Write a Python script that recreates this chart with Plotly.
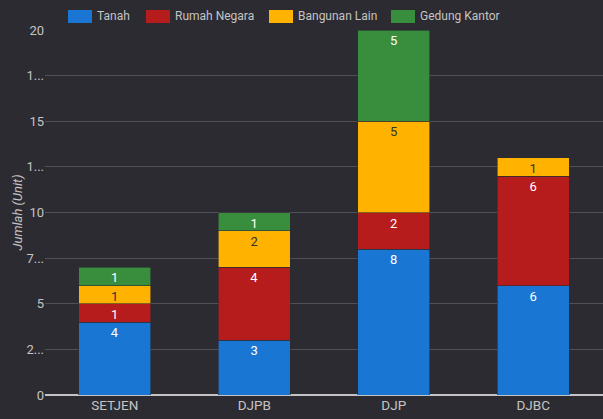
import plotly.graph_objects as go

categories = ["SETJEN", "DJPB", "DJP", "DJBC"]
series_names = ["Tanah", "Rumah Negara", "Bangunan Lain", "Gedung Kantor"]
tanah = [4, 3, 8, 6]
rumah_negara = [1, 4, 2, 6]
bangunan_lain = [1, 2, 5, 1]
gedung_kantor = [1, 1, 5, 0]
tick_vals = [0, 2.5, 5, 7.5, 10, 12.5, 15, 17.5, 20]
tick_text = ["0", "2...", "5", "7...", "10", "1...", "15", "1...", "20"]

colors = ["#1976d2", "#b71c1c", "#ffb300", "#388e3c"]
text_colors = ["#ffffff", "#ffffff", "#333333", "#ffffff"]
bg = "#2c2b31"
fg = "#c4c4c4"

W, H = 603, 419
ML, MR, MT, MB = 45, 0, 30, 24
PW, PH = W - ML - MR, H - MT - MB


def px_x(px):
    return (px - ML) / PW


def px_y(py):
    return (H - MB - py) / PH


fig = go.Figure()
for name, vals, c, tc in zip(series_names, [tanah, rumah_negara, bangunan_lain, gedung_kantor], colors, text_colors):
    fig.add_trace(go.Bar(
        x=categories, y=vals, name=name,
        marker=dict(color=c, line=dict(color=bg, width=0.6)),
        text=[str(v) if v else "" for v in vals],
        textposition="inside", insidetextanchor="end",
        textfont=dict(color=tc, size=13, family="Roboto"),
        textangle=0, showlegend=False,
    ))

# custom legend (wide swatches like the reference)
legend_swatch_left = [68, 146, 269, 391]
shapes = []
annotations = []
for name, c, sx in zip(series_names, colors, legend_swatch_left):
    shapes.append(dict(type="rect", xref="paper", yref="paper",
                       x0=px_x(sx), x1=px_x(sx + 24), y0=px_y(23), y1=px_y(10),
                       fillcolor=c, line=dict(width=0)))
    annotations.append(dict(text=name, xref="paper", yref="paper", x=px_x(sx + 27), y=px_y(16.5),
                            xanchor="left", yanchor="middle", showarrow=False,
                            font=dict(size=12, color=fg, family="Roboto")))

annotations.append(dict(text="<i>Jumlah (Unit)</i>", xref="paper", yref="paper",
                        x=px_x(17), y=0.5, xanchor="center", yanchor="middle",
                        textangle=-90, showarrow=False,
                        font=dict(size=13, color=fg, family="Roboto")))

fig.update_layout(
    barmode="stack", bargap=0.486,
    width=W, height=H,
    paper_bgcolor=bg, plot_bgcolor=bg,
    margin=dict(l=ML, r=MR, t=MT, b=MB, autoexpand=False),
    font=dict(family="Roboto", color=fg, size=13),
    showlegend=False,
    uniformtext=dict(minsize=13, mode="show"),
    shapes=shapes, annotations=annotations,
    xaxis=dict(showgrid=False, tickfont=dict(size=13.5, color=fg), ticks="",
               showline=False, automargin=False),
    yaxis=dict(range=[0, 20], tickvals=tick_vals, ticktext=tick_text,
               gridcolor="#505056", gridwidth=1, zeroline=True, zerolinecolor=fg,
               zerolinewidth=1.5, automargin=False,
               tickfont=dict(size=13, color=fg)),
)
fig.write_html("out.html", config={"displayModeBar": False},
               post_script="document.body.style.margin='0';document.body.style.background='%s';" % bg)
